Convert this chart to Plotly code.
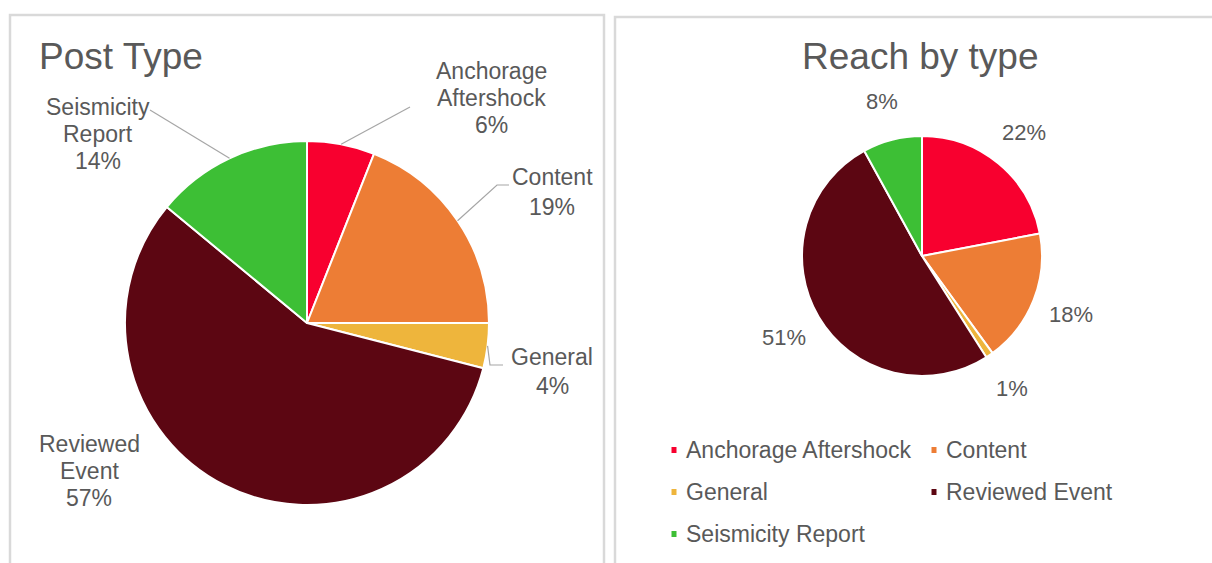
import math
import plotly.graph_objects as go

W, H = 1212, 563

# ---- data -------------------------------------------------------------
categories = ["Anchorage Aftershock", "Content", "General",
              "Reviewed Event", "Seismicity Report"]
post_share = [6, 19, 4, 57, 14]        # Post Type (%)
reach_share = [22, 18, 1, 51, 8]       # Reach by type (%)
post_label_names = [["Anchorage", "Aftershock"], ["Content"], ["General"],
                    ["Reviewed", "Event"], ["Seismicity", "Report"]]

# ---- styles / layout --------------------------------------------------
colors = ["#f8002f", "#ed7d35", "#eeb53c", "#5c0612", "#3dbf35"]
TEXT = "#595959"
LEADER = "#a6a6a6"
FONT = "Liberation Sans, Arial, sans-serif"
LABEL_SIZE = 23
LINE_GAP = 27

left_center, left_r = (307, 323), 182
right_center, right_r = (922, 256), 120

# label anchor (centre x, first-line centre y) for the Post Type chart
post_label_pos = [(491, 71), (552, 177), (552, 357), (89, 444), (98, 107)]
post_label_gap = [LINE_GAP, 30, 29, LINE_GAP, LINE_GAP]
# leader-line bends / ends for each label (None = no leader)
post_leader_ends = [[(410, 107)],
                    [(497, 185), (509, 185)],
                    [(490, 365), (503, 365)],
                    None,
                    [(150, 110)]]


def px(x):
    return x / W


def py(y):
    return 1 - y / H


def mid_angles(values):
    total = sum(values)
    out, acc = [], 0.0
    for v in values:
        out.append((acc + v / 2) / total * 2 * math.pi)
        acc += v
    return out


def on_circle(center, r, ang):
    return center[0] + r * math.sin(ang), center[1] - r * math.cos(ang)


def pie_domain(center, r):
    cx, cy = center
    return dict(x=[px(cx - r), px(cx + r)], y=[py(cy + r), py(cy - r)])


def text_ann(text, x, y, size, anchor="center", color=TEXT):
    return dict(text=text, x=px(x), y=py(y), xref="paper", yref="paper",
                xanchor=anchor, yanchor="middle", showarrow=False,
                font=dict(family=FONT, size=size, color=color))


fig = go.Figure()

fig.add_trace(go.Pie(
    labels=categories, values=post_share, sort=False,
    direction="clockwise", rotation=0,
    marker=dict(colors=colors, line=dict(color="white", width=2)),
    textinfo="none", showlegend=False, domain=pie_domain(left_center, left_r),
))
fig.add_trace(go.Pie(
    labels=categories, values=reach_share, sort=False,
    direction="clockwise", rotation=0,
    marker=dict(colors=colors, line=dict(color="white", width=2)),
    textinfo="none", showlegend=False, domain=pie_domain(right_center, right_r),
))

shapes, annotations = [], []

# panel frames
for x0, y0, x1 in [(10, 15, 604), (615, 17, 1225)]:
    shapes.append(dict(type="rect", xref="paper", yref="paper",
                       x0=px(x0), x1=px(x1), y0=py(y0), y1=py(H + 10),
                       line=dict(color="#d9d9d9", width=2.5),
                       fillcolor="rgba(0,0,0,0)", layer="below"))

# titles
annotations.append(text_ann("Post Type", 37, 56, 37, anchor="left"))
annotations.append(text_ann("Reach by type", 920, 57, 37))

# Post Type labels with leader lines
for name_lines, val, ang, pos, gap, ends in zip(post_label_names, post_share,
                                                mid_angles(post_share), post_label_pos,
                                                post_label_gap, post_leader_ends):
    lines = name_lines + [f"{val}%"]
    for k, line in enumerate(lines):
        annotations.append(text_ann(line, pos[0], pos[1] + k * gap, LABEL_SIZE))
    if ends:
        sx, sy = on_circle(left_center, left_r, ang)
        path = f"M {px(sx)} {py(sy)}" + "".join(f" L {px(x)} {py(y)}" for x, y in ends)
        shapes.append(dict(type="path", xref="paper", yref="paper", path=path,
                           line=dict(color=LEADER, width=1.2)))

# Reach by type percentage labels, placed outside each slice
for val, ang in zip(reach_share, mid_angles(reach_share)):
    lx, ly = on_circle(right_center, right_r + 40, ang)
    annotations.append(text_ann(f"{val}%", lx, ly, LABEL_SIZE - 1))

# legend for Reach by type (two columns)
col_x = [674, 934]
for i, (cat, col) in enumerate(zip(categories, colors)):
    mx = col_x[i % 2]
    my = 450 + 42 * (i // 2)
    shapes.append(dict(type="rect", xref="paper", yref="paper",
                       x0=px(mx - 2.5), x1=px(mx + 2.5), y0=py(my + 3), y1=py(my - 3),
                       fillcolor=col, line=dict(width=0)))
    annotations.append(text_ann(cat, mx + 10, my, LABEL_SIZE, anchor="left"))

fig.update_layout(
    width=W, height=H, margin=dict(l=0, r=0, t=0, b=0),
    paper_bgcolor="white", plot_bgcolor="white",
    shapes=shapes, annotations=annotations,
)

fig.write_html("out.html")
